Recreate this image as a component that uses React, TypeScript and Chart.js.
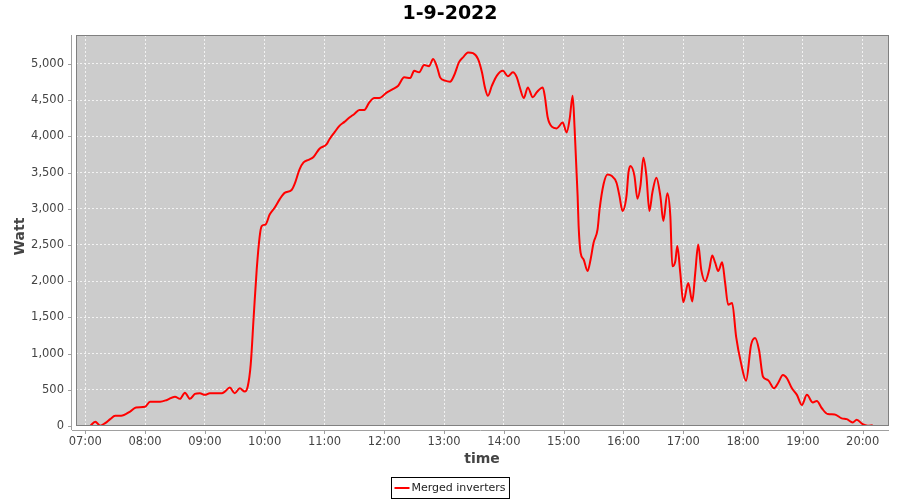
import React, { useEffect, useRef } from "react";
import { Chart, registerables } from "chart.js";

Chart.register(...registerables);

const chartTitle = "1-9-2022";
const seriesLabel = "Merged inverters";
const xAxisTitle = "time";
const yAxisTitle = "Watt";

const times = [
  "07:05", "07:10", "07:15", "07:20", "07:25", "07:30", "07:36", "07:45", "07:51", "08:00",
  "08:05", "08:15", "08:22", "08:30", "08:35", "08:40", "08:45", "08:50", "08:55", "09:00",
  "09:05", "09:17", "09:20", "09:25", "09:30", "09:35", "09:40", "09:43", "09:46", "09:49",
  "09:52", "09:55", "09:57", "10:01", "10:05", "10:10", "10:15", "10:20", "10:27", "10:30",
  "10:35", "10:39", "10:44", "10:49", "10:55", "11:02", "11:05", "11:10", "11:15", "11:20",
  "11:25", "11:30", "11:35", "11:40", "11:45", "11:50", "11:55", "12:02", "12:09", "12:14",
  "12:20", "12:26", "12:30", "12:35", "12:40", "12:45", "12:49", "12:53", "12:56", "13:01",
  "13:06", "13:10", "13:15", "13:19", "13:24", "13:29", "13:34", "13:38", "13:41", "13:44",
  "13:48", "13:53", "13:59", "14:04", "14:09", "14:13", "14:16", "14:20", "14:24", "14:29",
  "14:33", "14:39", "14:41", "14:44", "14:48", "14:53", "14:59", "15:03", "15:06", "15:09",
  "15:11", "15:14", "15:15", "15:17", "15:20", "15:24", "15:27", "15:30", "15:34", "15:36",
  "15:40", "15:44", "15:48", "15:53", "15:56", "15:59", "16:03", "16:05", "16:07", "16:11",
  "16:14", "16:17", "16:20", "16:23", "16:26", "16:29", "16:33", "16:37", "16:40", "16:44",
  "16:47", "16:49", "16:52", "16:54", "16:57", "17:00", "17:05", "17:09", "17:12", "17:15",
  "17:18", "17:22", "17:26", "17:29", "17:32", "17:35", "17:39", "17:42", "17:45", "17:49",
  "17:53", "17:58", "18:03", "18:08", "18:12", "18:16", "18:20", "18:25", "18:31", "18:35",
  "18:40", "18:44", "18:49", "18:54", "18:59", "19:04", "19:10", "19:14", "19:19", "19:25",
  "19:32", "19:39", "19:44", "19:50", "19:54", "20:00", "20:05", "20:10",
];

const watts = [
  0, 60, 5, 40, 95, 140, 140, 200, 255, 265,
  335, 335, 360, 405, 375, 460, 375, 443, 453, 430,
  453, 453, 475, 530, 453, 520, 475, 545, 850, 1515,
  2160, 2620, 2760, 2785, 2920, 3015, 3130, 3220, 3260, 3340,
  3545, 3640, 3675, 3715, 3830, 3890, 3960, 4055, 4145, 4200,
  4260, 4310, 4365, 4365, 4470, 4530, 4530, 4600, 4655, 4700,
  4815, 4805, 4905, 4885, 4985, 4970, 5070, 4955, 4815, 4770,
  4755, 4840, 5025, 5090, 5160, 5150, 5070, 4885, 4675, 4560,
  4700, 4840, 4905, 4830, 4885, 4815, 4675, 4530, 4675, 4540,
  4610, 4675, 4560, 4260, 4135, 4110, 4190, 4055, 4240, 4560,
  4100, 3175, 2760, 2390, 2300, 2140, 2300, 2530, 2715, 2990,
  3340, 3475, 3455, 3360, 3175, 2970, 3175, 3500, 3590, 3455,
  3140, 3315, 3705, 3455, 2970, 3225, 3430, 3175, 2830, 3215,
  2900, 2205, 2275, 2485, 2115, 1710, 1975, 1720, 2115, 2505,
  2160, 2000, 2160, 2355, 2255, 2140, 2260, 1975, 1675, 1700,
  1235, 865, 625, 1120, 1215, 1050, 680, 635, 520, 590,
  705, 660, 520, 430, 290, 430, 325, 345, 245, 165,
  160, 105, 95, 50, 85, 25, 5, 10,
];

const xTickLabels = [
  "07:00", "08:00", "09:00", "10:00", "11:00", "12:00", "13:00",
  "14:00", "15:00", "16:00", "17:00", "18:00", "19:00", "20:00",
];
const yTickValues = [0, 500, 1000, 1500, 2000, 2500, 3000, 3500, 4000, 4500, 5000];
const xRange = ["06:50.7", "20:25.4"];
const yRange = [0, 5400];

const toMin = (s: string) => {
  const [h, m] = s.split(":");
  return parseInt(h, 10) * 60 + parseFloat(m);
};
const fmtMin = (v: number) => {
  const h = Math.floor(v / 60);
  const m = Math.round(v - h * 60);
  return String(h).padStart(2, "0") + ":" + String(m).padStart(2, "0");
};

const FONT = "'DejaVu Sans', sans-serif";

const decorPlugin = {
  id: "decor",
  beforeDraw(chart: any) {
    const { ctx, chartArea: a } = chart;
    ctx.save();
    ctx.fillStyle = "#ffffff";
    ctx.fillRect(0, 0, chart.width, chart.height);
    ctx.fillStyle = "#cccccc";
    ctx.fillRect(a.left, a.top, a.right - a.left, a.bottom - a.top);
    ctx.restore();
  },
  afterDraw(chart: any) {
    const { ctx, chartArea: a } = chart;
    const xs = chart.scales.x;
    const ys = chart.scales.y;
    ctx.save();
    ctx.strokeStyle = "#808080";
    ctx.lineWidth = 1;
    ctx.strokeRect(a.left + 0.5, a.top + 0.5, a.right - a.left, a.bottom - a.top - 1);
    ctx.strokeStyle = "#a0a0a0";
    ctx.beginPath();
    ctx.moveTo(a.left - 4.5, a.top);
    ctx.lineTo(a.left - 4.5, a.bottom + 4);
    ctx.moveTo(a.left - 4, a.bottom + 4.5);
    ctx.lineTo(a.right + 1, a.bottom + 4.5);
    for (const v of yTickValues) {
      const y = Math.round(ys.getPixelForValue(v)) + 0.5;
      ctx.moveTo(a.left - 8, y);
      ctx.lineTo(a.left - 4, y);
    }
    for (const t of xTickLabels) {
      const x = Math.round(xs.getPixelForValue(toMin(t))) + 0.5;
      ctx.moveTo(x, a.bottom + 4);
      ctx.lineTo(x, a.bottom + 8);
    }
    ctx.stroke();

    ctx.fillStyle = "#000000";
    ctx.font = `bold 19px ${FONT}`;
    ctx.textAlign = "center";
    ctx.textBaseline = "middle";
    ctx.fillText(chartTitle, chart.width / 2, 14);

    ctx.fillStyle = "#444444";
    ctx.font = `bold 14px ${FONT}`;
    ctx.fillText(xAxisTitle, (a.left + a.right) / 2, 459);
    ctx.save();
    ctx.translate(20, (a.top + a.bottom) / 2 + 6);
    ctx.rotate(-Math.PI / 2);
    ctx.fillText(yAxisTitle, 0, 0);
    ctx.restore();

    ctx.font = `11px ${FONT}`;
    const tw = ctx.measureText(seriesLabel).width;
    const bw = tw + 24;
    const bx = Math.round(chart.width / 2 - bw / 2) + 0.5;
    const by = 477.5;
    ctx.strokeStyle = "#000000";
    ctx.lineWidth = 1;
    ctx.strokeRect(bx, by, bw, 21);
    ctx.strokeStyle = "#ff0000";
    ctx.lineWidth = 2;
    ctx.beginPath();
    ctx.moveTo(bx + 3, by + 10.5);
    ctx.lineTo(bx + 18, by + 10.5);
    ctx.stroke();
    ctx.fillStyle = "#222222";
    ctx.textAlign = "left";
    ctx.fillText(seriesLabel, bx + 20, by + 11);
    ctx.restore();
  },
};

export default function App() {
  const ref = useRef<HTMLCanvasElement | null>(null);
  useEffect(() => {
    if (!ref.current) return;
    const data = times.map((t, i) => ({ x: toMin(t), y: watts[i] }));
    const chart = new Chart(ref.current, {
      type: "line",
      data: {
        datasets: [
          {
            label: seriesLabel,
            data,
            borderColor: "#ff0000",
            backgroundColor: "#ff0000",
            borderWidth: 2,
            pointRadius: 0,
            cubicInterpolationMode: "monotone",
            fill: false,
          },
        ],
      },
      options: {
        responsive: false,
        animation: false,
        layout: { padding: { top: 35, right: 12, left: 0, bottom: 0 } },
        plugins: {
          legend: { display: false },
          title: { display: false },
          tooltip: { enabled: false },
        },
        scales: {
          x: {
            type: "linear",
            min: toMin(xRange[0]),
            max: toMin(xRange[1]),
            afterFit: (s: any) => {
              s.height = 74;
            },
            afterBuildTicks: (s: any) => {
              s.ticks = xTickLabels.map((t) => ({ value: toMin(t) }));
            },
            ticks: {
              autoSkip: false,
              maxRotation: 0,
              padding: 9,
              color: "#444444",
              font: { family: FONT, size: 11.5 },
              callback: (v: any) => fmtMin(Number(v)),
            },
            grid: {
              color: "rgba(255,255,255,0.75)",
              lineWidth: 1,
              drawTicks: false,
            },
            border: { display: false, dash: [2, 2] },
          },
          y: {
            type: "linear",
            min: yRange[0],
            max: yRange[1],
            afterFit: (s: any) => {
              s.width = 76;
            },
            afterBuildTicks: (s: any) => {
              s.ticks = yTickValues.map((v) => ({ value: v }));
            },
            ticks: {
              autoSkip: false,
              padding: 12,
              color: "#444444",
              font: { family: FONT, size: 11.5 },
              callback: (v: any) => Number(v).toLocaleString("en-US"),
            },
            grid: {
              color: "rgba(255,255,255,0.75)",
              lineWidth: 1,
              drawTicks: false,
            },
            border: { display: false, dash: [2, 2] },
          },
        },
      },
      plugins: [decorPlugin],
    } as any);
    return () => chart.destroy();
  }, []);
  return (
    <div style={{ position: "fixed", left: 0, top: 0, width: 900, height: 500, background: "#fff" }}>
      <canvas ref={ref} width={900} height={500} style={{ display: "block" }} />
    </div>
  );
}
